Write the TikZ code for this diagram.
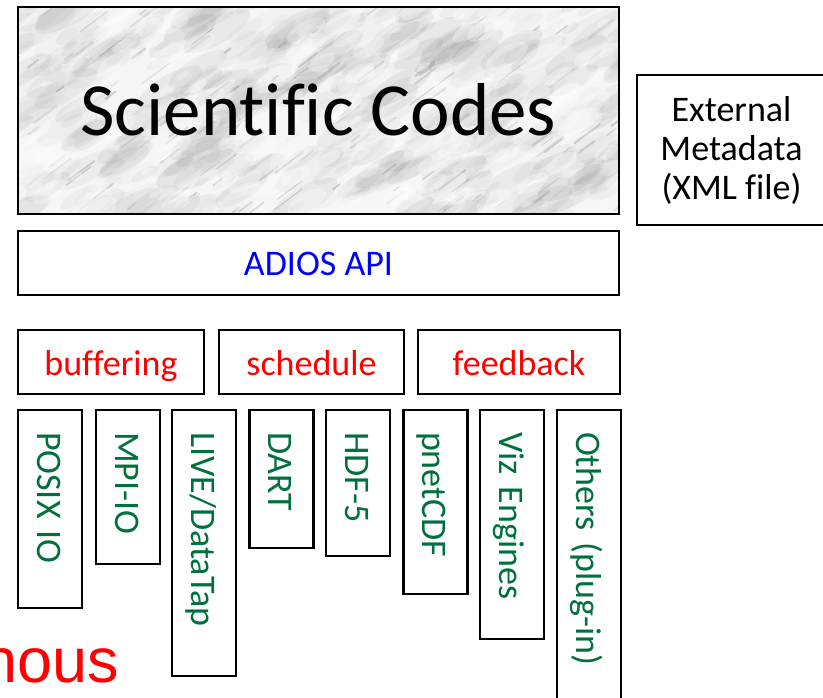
\documentclass[tikz,border=0pt]{standalone}
\usepackage{fontspec}
\setmainfont{Carlito}[Ligatures=NoCommon]
\newfontfamily\arialfont{Liberation Sans}
\definecolor{codegreen}{RGB}{0,112,60}
\definecolor{redtext}{RGB}{255,0,0}
\definecolor{bluetext}{RGB}{0,0,255}
\tikzset{
  boxstyle/.style={draw=black, line width=2.4pt, inner sep=0pt, outer sep=0pt},
  hbox/.style={boxstyle, minimum height=64pt, font=\fontsize{36}{39}\selectfont, text height=30pt, text depth=4pt},
  vbox/.style={boxstyle, rotate=-90, minimum height=64pt, inner xsep=22pt, inner ysep=0pt,
    text width=#1-44pt, align=left, font=\fontsize{36}{39}\selectfont, text=codegreen,
    text height=30pt, text depth=4pt}
}
\begin{document}
\begin{tikzpicture}[x=1pt,y=-1pt]
\useasboundingbox (0,0) rectangle (823,698);
\clip (0,0) rectangle (823,698);
% marble texture
\begin{scope}
\clip (18,7) rectangle (619,214);
\fill[gray!7] (18,7) rectangle (619,214);
\pgfmathsetseed{11}
\foreach \i in {1,...,420}{
  \pgfmathsetmacro\xx{10+rnd*620}
  \pgfmathsetmacro\yy{0+rnd*220}
  \pgfmathsetmacro\rr{4+rnd*18}
  \pgfmathsetmacro\op{0.02+0.06*rnd}
  \fill[gray!70!black, opacity=\op, rotate around={30:(\xx,\yy)}] (\xx,\yy) ellipse ({\rr*1.8pt} and {\rr*0.6pt});
}
\foreach \i in {1,...,120}{
  \pgfmathsetmacro\xx{18+rnd*601}
  \pgfmathsetmacro\yy{7+rnd*207}
  \pgfmathsetmacro\len{6+rnd*30}
  \pgfmathsetmacro\op{0.08+0.2*rnd}
  \pgfmathsetmacro\wd{0.8+1.8*rnd}
  \draw[gray!75!black, line width=\wd pt, opacity=\op, line cap=round] (\xx,\yy) -- ++(\len*0.8,-\len*0.6);
}
\foreach \i in {1,...,160}{
  \pgfmathsetmacro\xx{18+rnd*601}
  \pgfmathsetmacro\yy{7+rnd*207}
  \pgfmathsetmacro\rr{3+rnd*12}
  \fill[white, opacity=0.3, rotate around={30:(\xx,\yy)}] (\xx,\yy) ellipse ({\rr*1.6pt} and {\rr*0.7pt});
}
\end{scope}
% top boxes
\node[boxstyle, minimum width=601pt, minimum height=207pt, font=\fontsize{75}{80}\selectfont, text height=55pt, text depth=4pt] (sci) at (318.5,110.5) {Scientific Codes};
\node[hbox, minimum width=601pt, text=bluetext] (api) at (318.5,263) {ADIOS API};
\node[boxstyle, minimum width=189pt, minimum height=150pt, align=center, font=\fontsize{36}{39}\selectfont] (ext) at (731.5,150) {External\\Metadata\\(XML file)};
% service row
\node[hbox, minimum width=186pt, text=redtext] (buf) at (111,362) {buffering};
\node[hbox, minimum width=185pt, text=redtext] (sch) at (311.5,362) {schedule};
\node[hbox, minimum width=202pt, text=redtext] (fb) at (519,362) {feedback};
% transport methods
\node[vbox=198pt] (posix) at (50,509) {POSIX IO};
\node[vbox=154pt] (mpi) at (128,487) {MPI-IO};
\node[vbox=266pt] (live) at (204,543) {LIVE/DataTap};
\node[vbox=138pt] (dart) at (281.5,479) {DART};
\node[vbox=146pt] (hdf) at (358,483) {HDF-5};
\node[vbox=184pt] (pnet) at (435.5,502) {pnetCDF};
\node[vbox=229pt] (viz) at (512,524.5) {Viz Engines};
\node[vbox=290pt] (oth) at (589,555) {Others (plug-in)};
% partial red text at bottom left (cut off by the left edge, as in the reference)
\node[anchor=base east, inner sep=0pt, font=\arialfont\fontsize{63}{70}\selectfont, text=redtext] (nous) at (119,682) {nous};
\end{tikzpicture}
\end{document}
